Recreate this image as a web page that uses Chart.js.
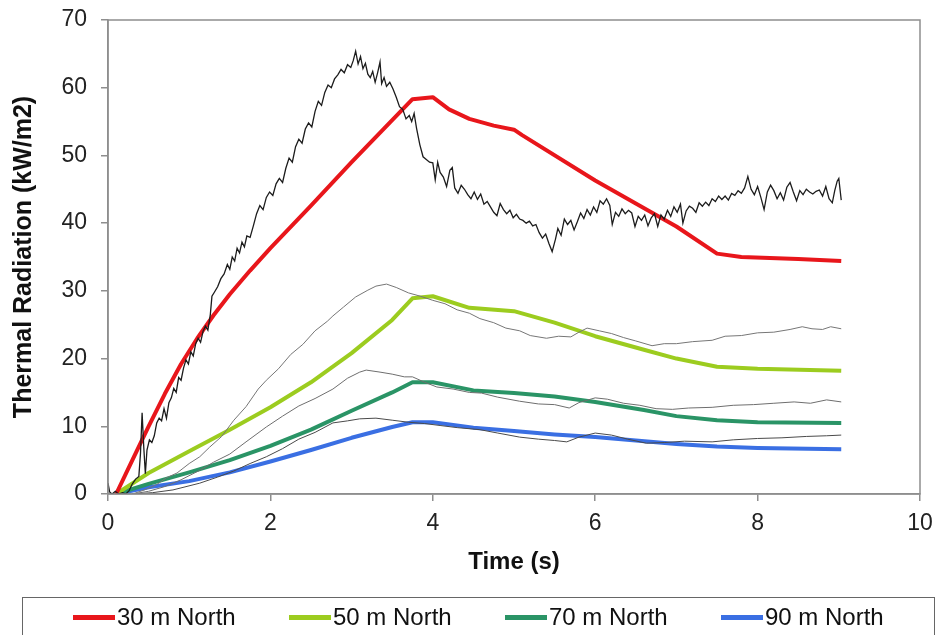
<!DOCTYPE html>
<html>
<head>
<meta charset="utf-8">
<script src="https://cdn.jsdelivr.net/npm/chart.js@4.4.1/dist/chart.umd.min.js"></script>
<style>
  html, body { margin: 0; padding: 0; background: #fff; }
  #wrap { position: relative; width: 941px; height: 635px; overflow: hidden; }
  #grafico { position: absolute; left: 0; top: 0; }
  #leyenda {
    position: absolute; left: 22px; top: 597px; width: 913px; height: 60px;
    border: 1.5px solid #666; box-sizing: border-box;
    font-family: "Liberation Sans", Arial, sans-serif; font-size: 24px; color: #111;
  }
  .item { position: absolute; top: 5px; display: flex; align-items: center; white-space: nowrap; }
  .linea { display: inline-block; width: 42px; height: 5px; margin-right: 2px; }
</style>
</head>
<body>
<div id="wrap">
  <canvas id="grafico" width="941" height="635"></canvas>
  <div id="leyenda"></div>
</div>
<script>
// series modeladas (lineas gruesas de color)
const nombres = ['30 m North', '50 m North', '70 m North', '90 m North'];
const colores = ['#e8161b', '#9ccc1f', '#2a9466', '#3a6fe3'];

const t30 = [0.1, 0.3, 0.5, 0.7, 0.9, 1.1, 1.3, 1.5, 1.75, 2.0, 2.5, 3.0, 3.5, 3.75, 4.0, 4.2, 4.45, 4.75, 5.0, 5.1, 6.0, 7.0, 7.5, 7.8, 8.5, 9.03];
const v30 = [0, 5, 10, 14.8, 19.2, 23.0, 26.4, 29.5, 33.0, 36.3, 42.6, 49, 55.2, 58.3, 58.6, 56.8, 55.4, 54.4, 53.8, 53, 46.3, 39.5, 35.5, 35, 34.7, 34.4];

const t50 = [0.1, 0.5, 1.0, 1.5, 2.0, 2.5, 3.0, 3.5, 3.75, 4.0, 4.45, 5.0, 5.5, 6.0, 6.6, 7.0, 7.5, 8.0, 9.03];
const v50 = [0, 3.1, 6.3, 9.5, 12.8, 16.5, 20.8, 25.7, 28.9, 29.2, 27.5, 27.0, 25.3, 23.3, 21.3, 20.0, 18.8, 18.5, 18.2];

const t70 = [0.1, 0.5, 1.0, 1.5, 2.0, 2.5, 3.0, 3.5, 3.75, 4.0, 4.5, 5.0, 5.5, 6.0, 6.6, 7.0, 7.5, 8.0, 9.03];
const v70 = [0, 1.5, 3.2, 5.0, 7.1, 9.5, 12.3, 15.0, 16.5, 16.5, 15.3, 14.9, 14.4, 13.6, 12.4, 11.5, 10.9, 10.6, 10.5];

const t90 = [0.1, 0.5, 1.0, 1.5, 2.0, 2.5, 3.0, 3.5, 3.75, 4.0, 4.5, 5.0, 5.5, 6.0, 6.5, 7.0, 7.5, 8.0, 9.03];
const v90 = [0, 1.0, 1.9, 3.2, 4.8, 6.5, 8.3, 9.9, 10.6, 10.6, 9.8, 9.3, 8.8, 8.4, 7.9, 7.4, 7.0, 6.8, 6.6];

// mediciones (lineas delgadas)
const tMed30 = [0.00, 0.02, 0.05, 0.09, 0.13, 0.18, 0.22, 0.26, 0.30, 0.34, 0.38, 0.40, 0.42, 0.44, 0.46, 0.48, 0.51, 0.54, 0.57, 0.60,
  0.63, 0.66, 0.69, 0.72, 0.75, 0.78, 0.81, 0.84, 0.87, 0.90, 0.93, 0.96, 0.99, 1.02, 1.05, 1.08, 1.11, 1.14, 1.17, 1.20,
  1.23, 1.26, 1.28, 1.31, 1.35, 1.39, 1.43, 1.47, 1.50, 1.53, 1.56, 1.59, 1.62, 1.65, 1.68, 1.71, 1.75, 1.79, 1.83, 1.87,
  1.91, 1.95, 1.99, 2.03, 2.07, 2.11, 2.15, 2.19, 2.23, 2.27, 2.31, 2.35, 2.39, 2.43, 2.47, 2.51, 2.55, 2.59, 2.63, 2.67,
  2.71, 2.75, 2.79, 2.83, 2.87, 2.91, 2.95, 2.99, 3.02, 3.05, 3.08, 3.11, 3.14, 3.17, 3.20, 3.23, 3.26, 3.29, 3.32, 3.35,
  3.37, 3.40, 3.43, 3.47, 3.51, 3.55, 3.59, 3.63, 3.67, 3.71, 3.74, 3.77, 3.80, 3.84, 3.88, 3.92, 3.96, 4.00, 4.03, 4.06,
  4.09, 4.13, 4.17, 4.21, 4.24, 4.27, 4.31, 4.35, 4.39, 4.43, 4.47, 4.51, 4.55, 4.59, 4.63, 4.67, 4.71, 4.75, 4.79, 4.83,
  4.87, 4.91, 4.95, 4.99, 5.03, 5.07, 5.11, 5.15, 5.19, 5.23, 5.27, 5.31, 5.35, 5.39, 5.43, 5.47, 5.51, 5.54, 5.58, 5.62,
  5.66, 5.70, 5.74, 5.78, 5.82, 5.86, 5.90, 5.94, 5.98, 6.02, 6.06, 6.10, 6.14, 6.18, 6.21, 6.25, 6.29, 6.33, 6.37, 6.41,
  6.45, 6.49, 6.53, 6.57, 6.61, 6.65, 6.69, 6.73, 6.77, 6.81, 6.85, 6.89, 6.93, 6.97, 7.01, 7.05, 7.08, 7.12, 7.16, 7.20,
  7.24, 7.28, 7.32, 7.36, 7.40, 7.44, 7.48, 7.52, 7.56, 7.60, 7.64, 7.68, 7.72, 7.76, 7.80, 7.84, 7.88, 7.92, 7.96, 8.00,
  8.04, 8.08, 8.12, 8.16, 8.20, 8.24, 8.28, 8.32, 8.36, 8.40, 8.44, 8.48, 8.52, 8.56, 8.60, 8.64, 8.68, 8.72, 8.76, 8.80,
  8.84, 8.88, 8.92, 8.95, 8.98, 9.00, 9.03];
const vMed30 = [1.6, 0.3, 0, 0.4, 0, 0.2, 0, 0.5, 1.5, 2.2, 2.6, 6, 12, 7, 3, 6.5, 8, 7.6, 8.6, 10.5,
  11.2, 10.8, 12.6, 11.2, 13.5, 14.2, 15.6, 15.0, 17.2, 16.8, 18.6, 19.8, 19.2, 21.0, 20.4, 22.2, 23.0, 22.4, 24.0, 24.8,
  24.2, 26.5, 29.2, 29.8, 30.6, 31.8, 32.5, 33.9, 33.2, 35.0, 34.4, 36.3, 35.6, 37.2, 36.5, 38.1, 37.9, 39.6, 41.4, 42.6,
  42.0, 43.8, 44.6, 44.1, 45.8, 46.6, 46.0, 48.1, 49.6, 49.0, 51.3, 52.4, 51.8, 53.9, 54.8, 54.2, 56.5, 58.0, 57.4, 59.3,
  60.4, 60.0, 61.3, 61.9, 62.7, 62.2, 63.4, 63.0, 64.0, 65.4, 63.5, 64.6, 62.8, 63.6, 62.0, 61.5, 62.4, 60.8, 62.2, 63.8,
  60.6, 61.5, 60.2, 60.8, 59.8, 58.6, 57.2, 56.8, 55.4, 55.9, 55.0, 56.2, 54.0, 51.6, 49.8, 49.4, 49.0, 48.9, 46.4, 49.0,
  47.5, 46.8, 45.4, 47.8, 48.2, 45.2, 44.4, 45.6, 45.0, 44.2, 43.6, 44.6, 43.5, 44.3, 42.8, 43.2, 42.4, 41.6, 41.1, 42.9,
  42.0, 41.4, 41.9, 40.8, 41.3, 40.6, 40.4, 40.0, 40.3, 39.6, 39.8, 38.6, 37.8, 38.4, 37.0, 35.8, 37.6, 39.2, 38.2, 40.6,
  39.8, 40.4, 39.0, 40.2, 41.5, 40.7, 42.0, 41.2, 42.4, 41.6, 43.3, 42.8, 43.6, 42.6, 39.8, 41.6, 41.0, 42.1, 41.4, 41.9,
  41.5, 39.5, 41.0, 40.4, 41.2, 39.6, 40.8, 41.4, 39.5, 41.2, 40.6, 41.9, 41.0, 42.4, 41.6, 42.8, 40.0, 41.8, 42.5, 42.2,
  41.6, 43.0, 42.5, 43.1, 42.6, 43.6, 43.2, 44.0, 43.5, 44.0, 43.4, 44.4, 44.1, 44.8, 44.4, 45.2, 46.9, 45.0, 44.2, 45.4,
  43.8, 42.0, 44.6, 45.6, 44.8, 43.6, 44.5, 43.4, 45.3, 46.0, 44.6, 43.3, 44.8, 44.2, 45.0, 44.6, 44.3, 44.7, 44.9, 44.0,
  45.4, 43.6, 43.0, 44.8, 46.2, 46.6, 43.4];

const tMed50 = [0.30, 0.45, 0.60, 0.72, 0.85, 1.00, 1.13, 1.25, 1.40, 1.55, 1.70, 1.85, 1.95, 2.10, 2.25, 2.40, 2.55, 2.70, 2.77, 2.90,
  3.05, 3.20, 3.30, 3.43, 3.55, 3.70, 3.85, 4.00, 4.15, 4.30, 4.45, 4.58, 4.75, 4.90, 5.07, 5.20, 5.40, 5.55, 5.70, 5.80,
  5.90, 6.05, 6.20, 6.35, 6.50, 6.70, 6.85, 7.00, 7.20, 7.44, 7.60, 7.80, 8.00, 8.20, 8.40, 8.55, 8.67, 8.80, 8.90, 9.03];
const vMed50 = [0, 0.6, 1.4, 2.4, 3.1, 4.5, 5.5, 6.9, 8.5, 10.9, 12.9, 15.5, 16.8, 18.5, 20.6, 22.1, 24.1, 25.5, 26.3, 27.6,
  29.1, 30.1, 30.7, 31.0, 30.5, 29.7, 29.2, 28.6, 28.1, 27.2, 26.7, 25.9, 25.3, 24.5, 24.1, 23.4, 23.0, 23.3, 23.2, 23.9,
  24.5, 24.1, 23.7, 23.1, 22.6, 21.9, 22.2, 22.2, 22.5, 22.7, 23.3, 23.4, 23.8, 23.9, 24.3, 24.7, 24.4, 24.3, 24.7, 24.4];

const tMed70 = [0.30, 0.50, 0.70, 0.90, 1.13, 1.30, 1.50, 1.70, 1.95, 2.15, 2.35, 2.55, 2.77, 2.95, 3.10, 3.18, 3.35, 3.50, 3.65, 3.75,
  3.90, 4.05, 4.25, 4.45, 4.60, 4.80, 5.07, 5.30, 5.50, 5.68, 5.80, 6.00, 6.15, 6.35, 6.55, 6.75, 6.95, 7.15, 7.44, 7.70,
  7.95, 8.20, 8.45, 8.65, 8.85, 9.03];
const vMed70 = [0, 0.4, 1.1, 2.1, 3.5, 4.7, 5.9, 7.7, 9.9, 11.5, 13.0, 14.1, 15.5, 17.1, 18.0, 18.3, 18.0, 17.7, 17.3, 17.3,
  16.5, 15.8, 15.5, 15.0, 14.9, 14.3, 13.7, 13.3, 13.2, 12.7, 13.5, 14.2, 14.0, 13.4, 13.1, 12.6, 12.5, 12.7, 12.8, 13.1,
  13.2, 13.4, 13.6, 13.4, 13.9, 13.6];

const tMed90 = [0.30, 0.55, 0.80, 1.13, 1.35, 1.55, 1.75, 1.95, 2.15, 2.35, 2.55, 2.77, 2.95, 3.10, 3.30, 3.50, 3.70, 3.90, 4.10, 4.30,
  4.58, 4.80, 5.07, 5.30, 5.50, 5.65, 5.80, 6.00, 6.20, 6.40, 6.63, 6.85, 7.10, 7.44, 7.70, 8.00, 8.30, 8.60, 8.85, 9.03];
const vMed90 = [0, 0.2, 0.6, 1.6, 2.5, 3.4, 4.5, 5.5, 6.7, 8.1, 9.1, 10.5, 10.8, 11.1, 11.2, 10.9, 10.6, 10.4, 10.1, 9.8,
  9.5, 9.0, 8.4, 8.1, 7.9, 7.7, 8.4, 9.0, 8.7, 8.1, 7.5, 7.6, 7.8, 7.7, 8.0, 8.2, 8.3, 8.5, 8.6, 8.7];

// ejes
const xMin = 0, xMax = 10, xPaso = 2;
const yMin = 0, yMax = 70, yPaso = 10;
const tituloX = 'Time (s)';
const tituloY = 'Thermal Radiation (kW/m2)';

const puntos = (ts, vs) => ts.map((t, i) => ({ x: t, y: vs[i] }));

const fuente = '"Liberation Sans", Arial, sans-serif';
const gris = '#8e8e8e';

// marco alrededor del area de la grafica
const marco = {
  id: 'marco',
  afterDraw(chart) {
    const { ctx, chartArea: a } = chart;
    ctx.save();
    ctx.strokeStyle = gris;
    ctx.lineWidth = 1.5;
    ctx.strokeRect(a.left, a.top, a.right - a.left, a.bottom - a.top);
    ctx.restore();
  }
};

const medicion = (ts, vs, color, ancho) => ({
  data: puntos(ts, vs),
  borderColor: color,
  borderWidth: ancho,
  pointRadius: 0,
  tension: 0,
  fill: false
});

const modelo = (ts, vs, color) => ({
  data: puntos(ts, vs),
  borderColor: color,
  borderWidth: 4,
  pointRadius: 0,
  tension: 0,
  borderJoinStyle: 'round',
  fill: false
});

const ctx = document.getElementById('grafico').getContext('2d');

window.graficaRadiacion = new Chart(ctx, {
  type: 'line',
  data: {
    datasets: [
      medicion(tMed30, vMed30, '#1c1c1c', 1.3),
      medicion(tMed50, vMed50, '#767676', 1),
      medicion(tMed70, vMed70, '#6e6e6e', 1),
      medicion(tMed90, vMed90, '#4a4a4a', 1),
      modelo(t30, v30, colores[0]),
      modelo(t50, v50, colores[1]),
      modelo(t70, v70, colores[2]),
      modelo(t90, v90, colores[3])
    ]
  },
  options: {
    responsive: false,
    animation: false,
    layout: { padding: { left: 8, top: 20, right: 21, bottom: 40 } },
    plugins: {
      legend: { display: false },
      tooltip: { enabled: false }
    },
    scales: {
      x: {
        type: 'linear',
        min: xMin, max: xMax,
        ticks: { stepSize: xPaso, color: '#222', font: { family: fuente, size: 23 }, padding: 9 },
        grid: { drawOnChartArea: false, tickLength: 7, color: gris, lineWidth: 1.5 },
        border: { color: gris, width: 1.5 },
        title: { display: true, text: tituloX, color: '#111', font: { family: fuente, size: 24, weight: 'bold' }, padding: { top: 0, bottom: 18 } },
        afterFit: (s) => { s.height = 101; s.paddingLeft = 0; s.paddingRight = 0; }
      },
      y: {
        min: yMin, max: yMax,
        ticks: { stepSize: yPaso, color: '#222', font: { family: fuente, size: 23 }, padding: 14 },
        grid: { drawOnChartArea: false, tickLength: 7, color: gris, lineWidth: 1.5 },
        border: { color: gris, width: 1.5 },
        title: { display: true, text: tituloY, color: '#111', font: { family: fuente, size: 25, weight: 'bold' }, padding: { top: 1, bottom: 1 } },
        afterFit: (s) => { s.width = 100; s.paddingTop = 0; s.paddingBottom = 0; }
      }
    }
  },
  plugins: [marco]
});

// leyenda con recuadro
const posLeyenda = [50, 266, 482, 698];
const leyenda = document.getElementById('leyenda');
nombres.forEach((n, i) => {
  const el = document.createElement('div');
  el.className = 'item';
  el.style.left = posLeyenda[i] + 'px';
  el.innerHTML = '<span class="linea" style="background:' + colores[i] + '"></span>' + n;
  leyenda.appendChild(el);
});
</script>
</body>
</html>
